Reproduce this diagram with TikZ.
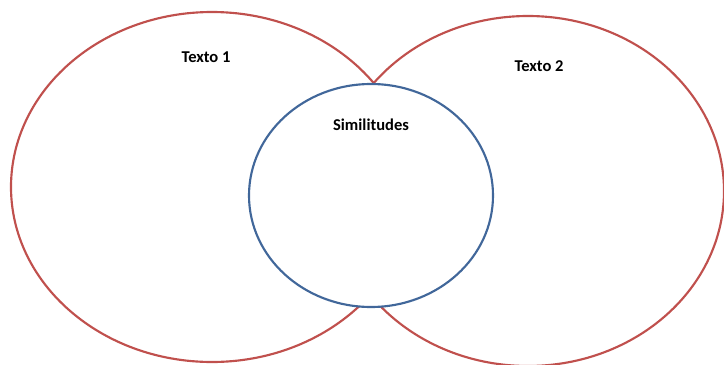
\documentclass[tikz,border=0pt]{standalone}
\usepackage{fontspec}
\setmainfont{Carlito}
\definecolor{vennred}{HTML}{C0504D}
\definecolor{vennblue}{HTML}{41679A}
\tikzset{
    outer set/.style={draw=vennred,line width=1.6pt},
    inner set/.style={draw=vennblue,line width=1.6pt,fill=white},
    set label/.style={font=\bfseries\fontsize{12.4}{14}\selectfont,inner sep=0pt},
}

\begin{document}
\begin{tikzpicture}[x=0.75pt,y=-0.75pt]
\useasboundingbox (0,0) rectangle (724,364);
\draw[outer set] (212,187) ellipse (201 and 175);
\draw[outer set] (528,191) ellipse (196 and 175);
\draw[inner set] (371,195.5) ellipse (122 and 111.5);
\node[set label] (texto1) at (206,57) {Texto 1};
\node[set label] (texto2) at (539,66) {Texto 2};
\node[set label] (simil) at (371,125) {Similitudes};
\end{tikzpicture}
\end{document}
